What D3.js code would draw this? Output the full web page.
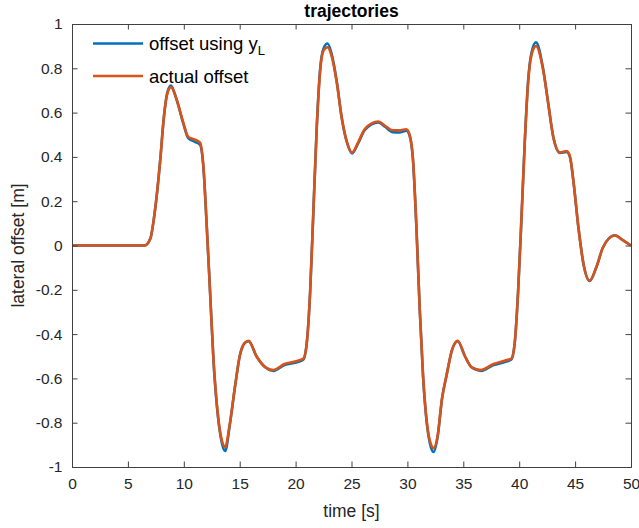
<!DOCTYPE html>
<html>
<head>
<meta charset="utf-8">
<script src="https://cdn.jsdelivr.net/npm/d3@7"></script>
<style>
  html, body { margin: 0; padding: 0; background: #fff; }
  svg { display: block; }
  text { font-family: "Liberation Sans", Arial, Helvetica, sans-serif; }
</style>
</head>
<body>
<svg id="chart" width="639" height="528"></svg>
<script>
// ---- data ----
const titleText = "trajectories";
const xLabel = "time [s]";
const yLabel = "lateral offset [m]";
const xTicks = [0, 5, 10, 15, 20, 25, 30, 35, 40, 45, 50];
const yTicks = [-1, -0.8, -0.6, -0.4, -0.2, 0, 0.2, 0.4, 0.6, 0.8, 1];
const yTickLabels = ["-1", "-0.8", "-0.6", "-0.4", "-0.2", "0", "0.2", "0.4", "0.6", "0.8", "1"];

const time = [0, 6.5, 7.0, 7.4, 7.9, 8.2, 8.5, 8.85, 9.35, 9.95, 10.4, 11.0, 11.45, 11.75, 12.05, 12.35, 12.65, 13.0, 13.4, 13.7, 14.1, 14.6, 15.0, 15.45, 15.8, 16.5, 17.3, 18.0, 19.0, 20.2, 20.7, 21.0, 21.3, 21.6, 21.9, 22.2, 22.5, 22.85, 23.2, 23.7, 24.1, 24.6, 25.05, 25.6, 26.2, 27.4, 28.0, 28.7, 29.3, 29.9, 30.2, 30.5, 30.8, 31.1, 31.4, 31.7, 32.0, 32.35, 32.7, 33.1, 33.5, 34.0, 34.5, 35.15, 35.75, 36.6, 37.7, 38.7, 39.3, 39.6, 39.9, 40.2, 40.5, 40.8, 41.1, 41.5, 42.15, 42.6, 43.05, 43.65, 44.25, 44.55, 44.85, 45.3, 45.75, 46.3, 46.9, 47.5, 48.55, 49.3, 50];

const actualOffset = [0, 0, 0.03, 0.15, 0.39, 0.57, 0.68, 0.715, 0.66, 0.555, 0.49, 0.478, 0.465, 0.36, 0.09, -0.21, -0.51, -0.74, -0.88, -0.91, -0.81, -0.63, -0.50, -0.44, -0.43, -0.50, -0.55, -0.562, -0.535, -0.52, -0.51, -0.44, -0.21, 0.167, 0.54, 0.79, 0.88, 0.895, 0.86, 0.73, 0.585, 0.466, 0.42, 0.466, 0.527, 0.56, 0.54, 0.52, 0.52, 0.525, 0.50, 0.39, 0.09, -0.285, -0.587, -0.78, -0.88, -0.915, -0.86, -0.69, -0.587, -0.47, -0.43, -0.50, -0.55, -0.562, -0.535, -0.52, -0.51, -0.44, -0.21, 0.12, 0.466, 0.737, 0.86, 0.90, 0.79, 0.64, 0.49, 0.42, 0.426, 0.40, 0.29, 0.08, -0.083, -0.158, -0.098, -0.008, 0.045, 0.023, 0];

const offsetUsingYL = [0, 0, 0.03, 0.15, 0.39, 0.57, 0.685, 0.722, 0.66, 0.552, 0.485, 0.468, 0.455, 0.355, 0.09, -0.21, -0.515, -0.745, -0.89, -0.928, -0.815, -0.63, -0.50, -0.44, -0.432, -0.50, -0.55, -0.566, -0.54, -0.526, -0.515, -0.44, -0.21, 0.167, 0.545, 0.8, 0.89, 0.912, 0.87, 0.735, 0.585, 0.464, 0.416, 0.462, 0.522, 0.556, 0.536, 0.512, 0.51, 0.518, 0.495, 0.385, 0.09, -0.285, -0.59, -0.785, -0.89, -0.932, -0.865, -0.69, -0.587, -0.47, -0.432, -0.50, -0.55, -0.566, -0.54, -0.526, -0.515, -0.44, -0.21, 0.12, 0.47, 0.745, 0.87, 0.917, 0.795, 0.64, 0.49, 0.418, 0.422, 0.397, 0.29, 0.08, -0.083, -0.16, -0.098, -0.008, 0.046, 0.023, 0];

const seriesNames = ["offset using y", "actual offset"];
const seriesColors = ["#0072BD", "#D95319"];

// ---- layout ----
const svg = d3.select("#chart");
const L = 72, R = 631, T = 24, B = 467;
const x = d3.scaleLinear().domain([0, 50]).range([L, R]);
const y = d3.scaleLinear().domain([-1, 1]).range([B, T]);
const axisColor = "#404040";
const textColor = "#262626";
const tickFont = "15.5px";

// clip
svg.append("defs").append("clipPath").attr("id", "clip")
  .append("rect").attr("x", L).attr("y", T).attr("width", R - L).attr("height", B - T);

// lines
const line = d3.line().x(d => x(d[0])).y(d => y(d[1])).curve(d3.curveMonotoneX);
const seriesData = [offsetUsingYL, actualOffset];
const gLines = svg.append("g").attr("clip-path", "url(#clip)");
seriesData.forEach((vals, i) => {
  gLines.append("path")
    .datum(time.map((t, k) => [t, vals[k]]))
    .attr("d", line)
    .attr("fill", "none")
    .attr("stroke", seriesColors[i])
    .attr("stroke-width", 2.6)
    .attr("stroke-linejoin", "round");
});

// axes (MATLAB style: ticks inward on all four sides, full box)
const tickLen = 5.5;
const bottomAxis = d3.axisBottom(x).tickValues(xTicks).tickSize(-tickLen).tickPadding(tickLen + 5).tickFormat(d3.format("d"));
const topAxis = d3.axisTop(x).tickValues(xTicks).tickSize(-tickLen).tickFormat("");
const leftAxis = d3.axisLeft(y).tickValues(yTicks).tickSize(-tickLen).tickPadding(tickLen + 4)
  .tickFormat((d, i) => yTickLabels[i]);
const rightAxis = d3.axisRight(y).tickValues(yTicks).tickSize(-tickLen).tickFormat("");

function style(g) {
  g.select(".domain").attr("stroke", axisColor).attr("stroke-width", 1);
  g.selectAll(".tick line").attr("stroke", axisColor).attr("stroke-width", 1);
  g.selectAll(".tick text").attr("fill", textColor).style("font-size", tickFont)
    .style("font-family", '"Liberation Sans", Arial, sans-serif');
}
svg.append("g").attr("transform", `translate(0,${B})`).call(bottomAxis).call(style);
svg.append("g").attr("transform", `translate(0,${T})`).call(topAxis).call(style);
svg.append("g").attr("transform", `translate(${L},0)`).call(leftAxis).call(style);
svg.append("g").attr("transform", `translate(${R},0)`).call(rightAxis).call(style);
svg.selectAll(".domain").attr("d", function() { return d3.select(this).attr("d"); });

// title & labels
svg.append("text").attr("x", (L + R) / 2).attr("y", 17)
  .attr("text-anchor", "middle").attr("font-weight", "bold")
  .style("font-size", "17.5px").attr("fill", "#000").text(titleText);
svg.append("text").attr("x", (L + R) / 2).attr("y", 517)
  .attr("text-anchor", "middle").style("font-size", "17.5px").attr("fill", textColor).text(xLabel);
svg.append("text").attr("transform", `translate(24,${(T + B) / 2}) rotate(-90)`)
  .attr("text-anchor", "middle").style("font-size", "17.5px").attr("fill", textColor).text(yLabel);

// legend (no box)
const legY = [43.5, 76];
const legG = svg.append("g");
seriesNames.forEach((name, i) => {
  legG.append("line").attr("x1", 93).attr("x2", 143).attr("y1", legY[i]).attr("y2", legY[i])
    .attr("stroke", seriesColors[i]).attr("stroke-width", 2.6);
  const t = legG.append("text").attr("x", 149).attr("y", legY[i] + 6.5)
    .style("font-size", "18.5px").attr("fill", "#000");
  t.append("tspan").text(name);
  if (i === 0) {
    t.append("tspan").attr("dy", 5).style("font-size", "13px").text("L");
  }
});
</script>
</body>
</html>
